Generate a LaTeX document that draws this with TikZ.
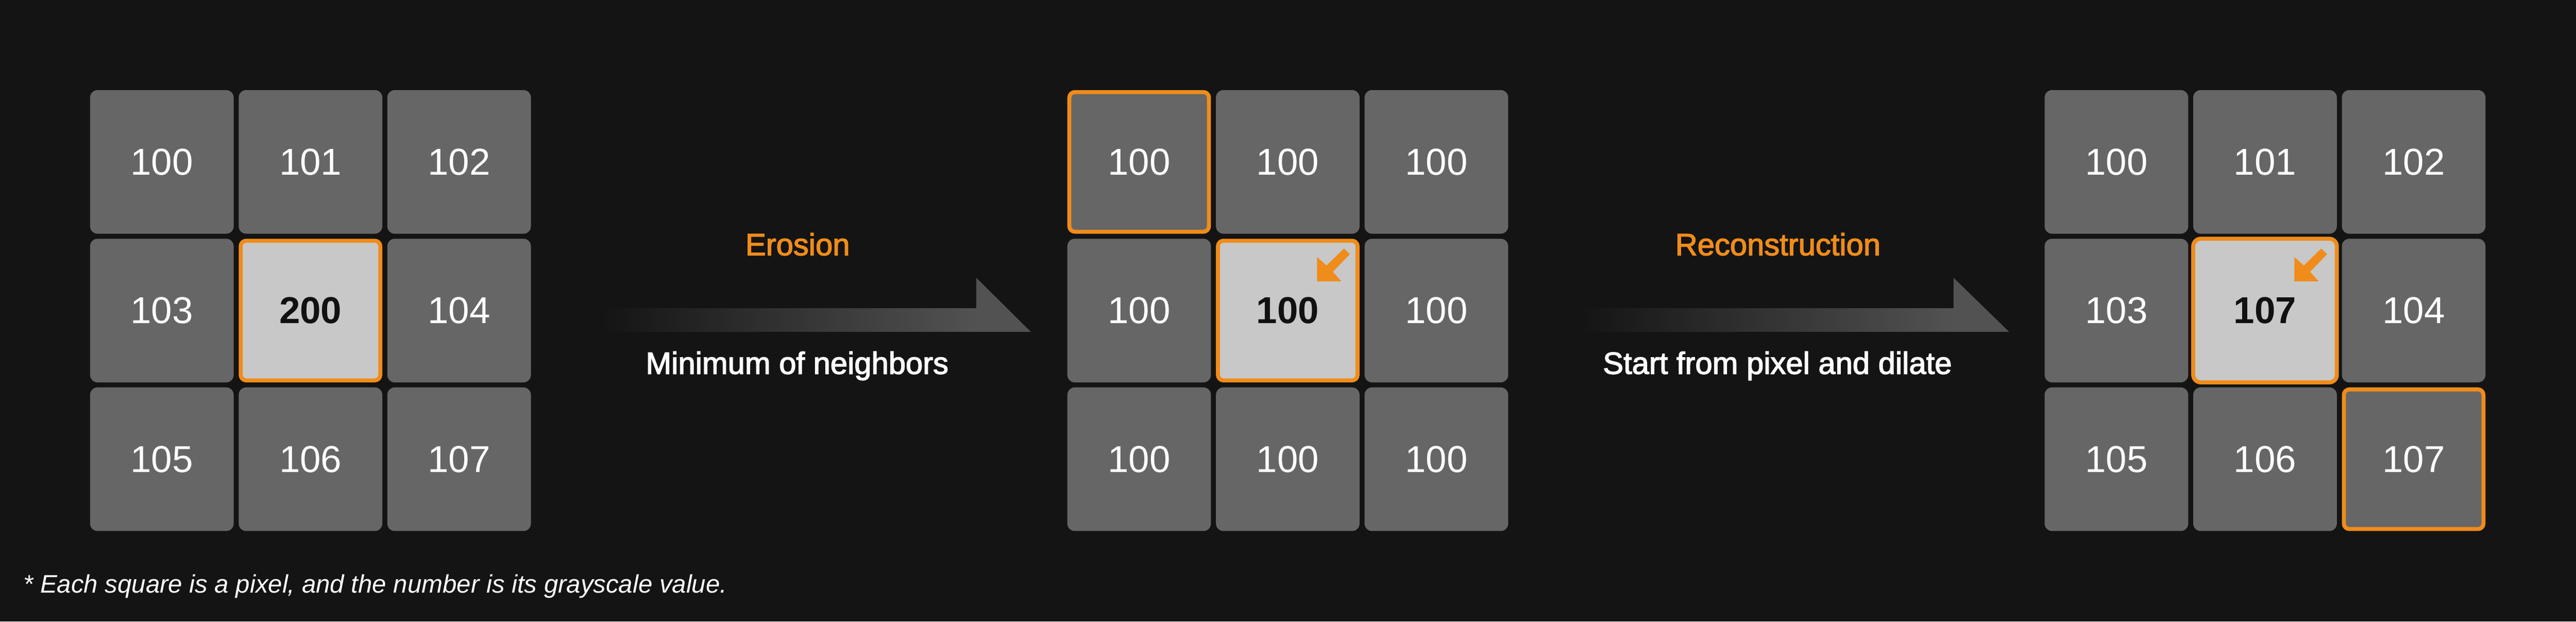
\documentclass[tikz,border=0pt]{standalone}
\usepackage{fontspec}
\setmainfont{Liberation Sans}
\newfontfamily\medfont{Liberation Sans}[FakeBold=2.5]

\definecolor{bg}{HTML}{141414}
\definecolor{cellgray}{HTML}{666666}
\definecolor{cellhi}{HTML}{C8C8C8}
\definecolor{hiorange}{HTML}{F08C1A}
\definecolor{shaftgray}{HTML}{525252}
\definecolor{darktext}{HTML}{111111}

\tikzset{
  px/.style={fill=cellgray, rounded corners=0.15cm, minimum size=2.87cm, inner sep=0pt, outer sep=0pt,
    text=white, font=\fontsize{21.3pt}{24pt}\selectfont},
  pxhi/.style={px, fill=cellhi, text=darktext, font=\fontsize{21.3pt}{24pt}\selectfont\bfseries},
  pxsel/.style={draw=hiorange, line width=0.08cm, minimum size=2.79cm, rounded corners=0.11cm},
  lbl/.style={inner sep=0pt, anchor=base, font=\medfont\fontsize{17.5pt}{20pt}\selectfont},
  swarrow/.pic={\fill[hiorange] (0.585,0.585) -- (0.585,1.07) -- (0.775,0.90) -- (1.125,1.24)
    -- (1.24,1.125) -- (0.90,0.775) -- (1.07,0.585) -- cycle;}
}

\begin{document}
\begin{tikzpicture}
        \useasboundingbox (0,0) rectangle (51.48,12.42);
        \fill[bg] (0,0) rectangle (51.48,12.42);

        % input
        \draw (3.235,9.185) node[px] (l1) {100};
        \draw (6.205,9.185) node[px] (l2) {101};
        \draw (9.175,9.185) node[px] (l3) {102};
        \draw (3.235,6.215) node[px] (l4) {103};
        \draw (6.205,6.215) node[pxhi,pxsel] (l5) {200};
        \draw (9.175,6.215) node[px] (l6) {104};
        \draw (3.235,3.245) node[px] (l7) {105};
        \draw (6.205,3.245) node[px] (l8) {106};
        \draw (9.175,3.245) node[px] (l9) {107};

        % erosion
        \shade[left color=bg, right color=shaftgray] (12.00,5.79) rectangle (19.52,6.26);
        \fill[shaftgray] (19.51,5.79) -- (19.51,6.87) -- (20.60,5.79) -- cycle;
        \draw (15.94,7.32) node[lbl, text=hiorange] (ero) {Erosion};
        \draw (15.93,4.95) node[lbl, text=white] (erotxt) {Minimum of neighbors};

        \draw (22.765,9.185) node[px,pxsel] (m1) {100};
        \draw (25.735,9.185) node[px] (m2) {100};
        \draw (28.705,9.185) node[px] (m3) {100};
        \draw (22.765,6.215) node[px] (m4) {100};
        \draw (25.735,6.215) node[pxhi,pxsel] (m5) {100};
        \draw (28.705,6.215) node[px] (m6) {100};
        \draw (22.765,3.245) node[px] (m7) {100};
        \draw (25.735,3.245) node[px] (m8) {100};
        \draw (28.705,3.245) node[px] (m9) {100};
        \pic at (m5) {swarrow};

        % reconstruction
        \shade[left color=bg, right color=shaftgray] (31.55,5.79) rectangle (39.05,6.26);
        \fill[shaftgray] (39.04,5.79) -- (39.04,6.87) -- (40.15,5.79) -- cycle;
        \draw (35.53,7.32) node[lbl, text=hiorange] (rec) {Reconstruction};
        \draw (35.52,4.95) node[lbl, text=white] (rectxt) {Start from pixel and dilate};

        \draw (42.295,9.185) node[px] (r1) {100};
        \draw (45.265,9.185) node[px] (r2) {101};
        \draw (48.235,9.185) node[px] (r3) {102};
        \draw (42.295,6.215) node[px] (r4) {103};
        \draw (45.265,6.215) node[pxhi,pxsel,minimum size=2.87cm,rounded corners=0.15cm] (r5) {107};
        \draw (48.235,6.215) node[px] (r6) {104};
        \draw (42.295,3.245) node[px] (r7) {105};
        \draw (45.265,3.245) node[px] (r8) {106};
        \draw (48.235,3.245) node[px,pxsel] (r9) {107};
        \pic at (r5) {swarrow};

        \draw (0.46,0.57) node[inner sep=0pt, anchor=base west, text=white,
          font=\itshape\fontsize{14.4pt}{17pt}\selectfont] (note)
          {* Each square is a pixel, and the number is its grayscale value.};

      \end{tikzpicture}
\end{document}
